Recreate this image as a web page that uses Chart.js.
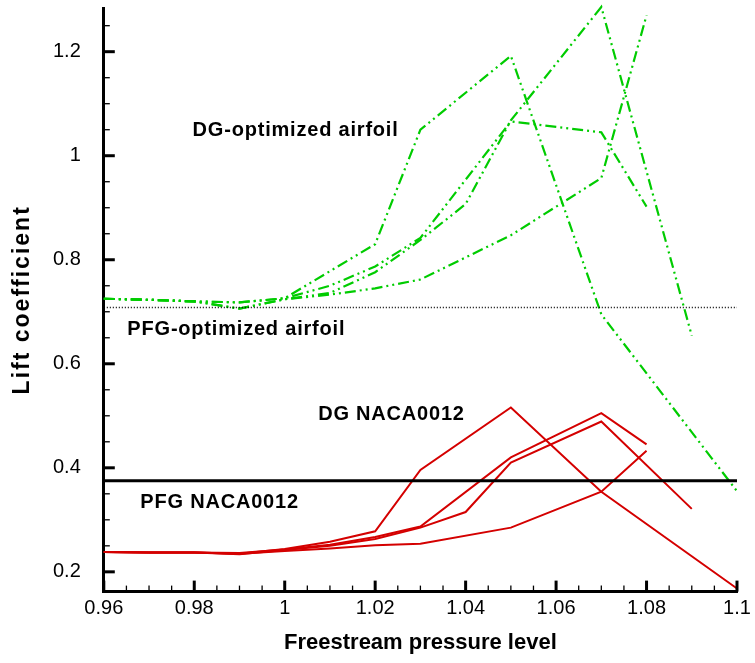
<!DOCTYPE html>
<html>
<head>
<meta charset="utf-8">
<script src="https://cdn.jsdelivr.net/npm/chart.js@4.4.1/dist/chart.umd.min.js"></script>
<style>
html,body{margin:0;padding:0;background:#fff;}
#wrap{width:755px;height:663px;}
</style>
</head>
<body>
<div id="wrap"><canvas id="c" width="755" height="663"></canvas></div>
<script>
// ---- data ----
const xTickValues = [0.96, 0.98, 1.0, 1.02, 1.04, 1.06, 1.08, 1.1];
const yTickValues = [0.2, 0.4, 0.6, 0.8, 1.0, 1.2];

// DG NACA0012 (red) runs
const redAx = [0.96, 0.97, 0.98, 0.99, 1.0, 1.01, 1.02, 1.03, 1.05, 1.07, 1.1];
const redAy = [0.238, 0.237, 0.237, 0.235, 0.244, 0.258, 0.278, 0.396, 0.516, 0.354, 0.168];
const redBx = [0.96, 0.97, 0.98, 0.99, 1.0, 1.01, 1.02, 1.03, 1.05, 1.07, 1.08];
const redBy = [0.238, 0.237, 0.237, 0.236, 0.243, 0.252, 0.267, 0.287, 0.42, 0.505, 0.445];
const redCx = [0.96, 0.97, 0.98, 0.99, 1.0, 1.01, 1.02, 1.03, 1.04, 1.05, 1.07, 1.09];
const redCy = [0.238, 0.237, 0.237, 0.234, 0.242, 0.25, 0.263, 0.285, 0.315, 0.41, 0.489, 0.321];
const redDx = [0.96, 0.97, 0.98, 0.99, 1.0, 1.01, 1.02, 1.03, 1.05, 1.07, 1.08];
const redDy = [0.238, 0.237, 0.237, 0.235, 0.24, 0.245, 0.251, 0.254, 0.285, 0.354, 0.433];

// DG optimized airfoil (green) runs
const grnAx = [0.96, 0.97, 0.98, 0.99, 1.0, 1.02, 1.03, 1.05, 1.07, 1.1];
const grnAy = [0.725, 0.723, 0.72, 0.718, 0.726, 0.83, 1.05, 1.192, 0.695, 0.355];
const grnBx = [0.96, 0.97, 0.98, 0.99, 1.0, 1.01, 1.02, 1.03, 1.05, 1.07, 1.08];
const grnBy = [0.725, 0.723, 0.72, 0.718, 0.726, 0.75, 0.787, 0.842, 1.066, 1.045, 0.902];
const grnCx = [0.96, 0.97, 0.98, 0.99, 1.0, 1.01, 1.02, 1.03, 1.04, 1.05, 1.07, 1.09];
const grnCy = [0.725, 0.723, 0.72, 0.706, 0.724, 0.736, 0.776, 0.838, 0.907, 1.068, 1.286, 0.654];
const grnDx = [0.96, 0.97, 0.98, 0.99, 1.0, 1.01, 1.02, 1.03, 1.05, 1.07, 1.08];
const grnDy = [0.725, 0.723, 0.72, 0.706, 0.724, 0.733, 0.745, 0.762, 0.847, 0.957, 1.27];

// PFG reference levels
const pfgNaca = 0.375;
const pfgOptimized = 0.708;

// annotation texts
const labelTexts = ["DG-optimized airfoil", "PFG-optimized airfoil", "DG NACA0012", "PFG NACA0012"];
const labelX = [1.0024, 0.9893, 1.0236, 0.9856];
const labelY = [1.048, 0.666, 0.503, 0.334];

const xTitle = 'Freestream pressure level';
const yTitle = 'Lift coefficient';

// ---- build ----
const FONT = '"Liberation Sans", Arial, sans-serif';
const pts = (xs, ys) => xs.map((x, i) => ({x: x, y: ys[i]}));
const RED = '#d40000';
const GREEN = '#00cc00';
const DASH = [11, 4, 2, 4, 2, 4];

function lineDs(data, color, dash, width) {
  return {data, borderColor: color, borderWidth: width, borderDash: dash || [],
    pointRadius: 0, pointHoverRadius: 0, showLine: true, tension: 0, fill: false, clip: 4};
}

const datasets = [
  lineDs(pts([0.96, 1.1], [pfgOptimized, pfgOptimized]), '#000', [1, 2], 1.5),
  lineDs(pts([0.96, 1.1], [pfgNaca, pfgNaca]), '#000', [], 3),
  lineDs(pts(grnAx, grnAy), GREEN, DASH, 2.2),
  lineDs(pts(grnBx, grnBy), GREEN, DASH, 2.2),
  lineDs(pts(grnCx, grnCy), GREEN, DASH, 2.2),
  lineDs(pts(grnDx, grnDy), GREEN, DASH, 2.2),
  lineDs(pts(redAx, redAy), RED, [], 2),
  lineDs(pts(redBx, redBy), RED, [], 2),
  lineDs(pts(redCx, redCy), RED, [], 2),
  lineDs(pts(redDx, redDy), RED, [], 2),
];

const innerTicks = {
  id: 'innerTicks',
  afterDatasetsDraw(chart) {
    const ctx = chart.ctx, xs = chart.scales.x, ys = chart.scales.y;
    const ca = chart.chartArea;
    const bottom = ca.bottom, left = ca.left;
    ctx.save();
    ctx.strokeStyle = '#000';
    ctx.lineCap = 'butt';
    for (let i = 0; i <= 28; i++) {
      const v = 0.96 + i * 0.005;
      const px = xs.getPixelForValue(v);
      const major = i % 4 === 0;
      ctx.lineWidth = major ? 3 : 1.3;
      ctx.beginPath();
      ctx.moveTo(px, bottom);
      ctx.lineTo(px, bottom - (major ? 11 : 6));
      ctx.stroke();
    }
    for (let i = 0; i <= 21; i++) {
      const v = 0.2 + i * 0.05;
      if (v > ys.max) break;
      const py = ys.getPixelForValue(v);
      const major = i % 4 === 0;
      ctx.lineWidth = major ? 3 : 1.3;
      ctx.beginPath();
      ctx.moveTo(left, py);
      ctx.lineTo(left + (major ? 11 : 6), py);
      ctx.stroke();
    }
    // text labels
    ctx.fillStyle = '#000';
    ctx.font = 'bold 20px ' + FONT;
    ctx.letterSpacing = '0.8px';
    ctx.textAlign = 'center';
    ctx.textBaseline = 'middle';
    labelTexts.forEach((t, i) => {
      ctx.fillText(t, xs.getPixelForValue(labelX[i]), ys.getPixelForValue(labelY[i]));
    });
    // y axis title
    ctx.font = 'bold 23px ' + FONT;
    ctx.letterSpacing = '2px';
    ctx.translate(23, (ca.top + ca.bottom) / 2);
    ctx.rotate(-Math.PI / 2);
    ctx.fillText(yTitle, 0, 0);
    ctx.restore();
  }
};

const fmt = v => String(Number(v.toFixed(2)));
const zeroPad = s => { s.paddingTop = 0; s.paddingBottom = 0; s.paddingLeft = 0; s.paddingRight = 0; };

new Chart(document.getElementById('c'), {
  type: 'scatter',
  data: {datasets},
  options: {
    responsive: false,
    animation: false,
    events: [],
    layout: {padding: {left: 30, right: 18, top: 8, bottom: 5}},
    plugins: {legend: {display: false}, tooltip: {enabled: false}},
    scales: {
      x: {
        type: 'linear', min: 0.96, max: 1.1,
        afterBuildTicks: s => { s.ticks = xTickValues.map(v => ({value: v})); },
        afterFit: zeroPad,
        ticks: {callback: v => fmt(v), font: {family: FONT, size: 20}, color: '#000', padding: 5, maxRotation: 0, autoSkip: false},
        grid: {display: true, drawOnChartArea: false, drawTicks: false},
        border: {display: true, color: '#000', width: 3},
        title: {display: true, text: xTitle, font: {family: FONT, size: 22, weight: 'bold'}, color: '#000', padding: {top: 4, bottom: 2}}
      },
      y: {
        type: 'linear', min: 0.162, max: 1.284,
        afterBuildTicks: s => { s.ticks = yTickValues.map(v => ({value: v})); },
        afterFit: zeroPad,
        ticks: {callback: v => fmt(v), font: {family: FONT, size: 20}, color: '#000', padding: 23, autoSkip: false},
        grid: {display: true, drawOnChartArea: false, drawTicks: false},
        border: {display: true, color: '#000', width: 3},
        title: {display: false}
      }
    }
  },
  plugins: [innerTicks]
});
</script>
</body>
</html>
